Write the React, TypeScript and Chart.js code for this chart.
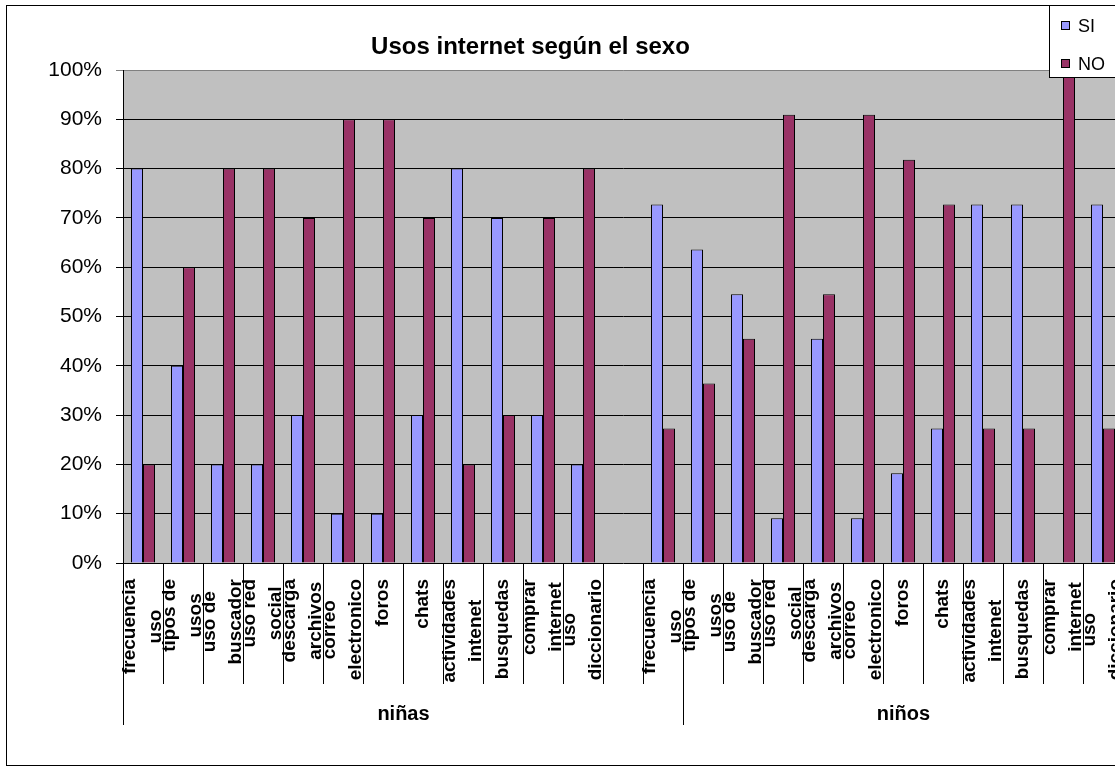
import React, { useEffect, useRef } from "react";
import { Chart, registerables } from "chart.js";

Chart.register(...registerables);

// ---------- data ----------
const chartTitle = "Usos internet según el sexo";
const seriesNames = ["SI", "NO"];
const seriesColors = ["#9999FF", "#993366"];
const categoryLabels: string[][] = [
  ["frecuencia", "uso"],
  ["tipos de", "usos"],
  ["uso de", "buscador"],
  ["uso red", "social"],
  ["descarga", "archivos"],
  ["correo", "electronico"],
  ["foros"],
  ["chats"],
  ["actividades", "intenet"],
  ["busquedas"],
  ["comprar", "internet"],
  ["uso", "diccionario"],
];
const groupNames = ["niñas", "niños"];
// category index ranges (inclusive) covered by each group label
const groupRanges: number[][] = [
  [0, 13],
  [14, 24],
];
const ninasSI = [80, 40, 20, 20, 30, 10, 10, 30, 80, 70, 30, 20];
const ninasNO = [20, 60, 80, 80, 70, 90, 90, 70, 20, 30, 70, 80];
const ninosSI = [72.7, 63.6, 54.5, 9.1, 45.5, 9.1, 18.2, 27.3, 72.7, 72.7, 0, 72.7];
const ninosNO = [27.3, 36.4, 45.5, 90.9, 54.5, 90.9, 81.8, 72.7, 27.3, 27.3, 100, 27.3];
const yMin = 0;
const yMax = 100;
const yStep = 10;

// ---------- derived ----------
const allLabels: string[][] = [...categoryLabels, [""], ...categoryLabels];
const siData: (number | null)[] = [...ninasSI, null, ...ninosSI];
const noData: (number | null)[] = [...ninasNO, null, ...ninosNO];

const FONT = '"Liberation Sans", Arial, sans-serif';

const decorPlugin = {
  id: "excelDecor",
  beforeDraw(chart: any) {
    const { ctx, chartArea: a } = chart;
    ctx.save();
    ctx.fillStyle = "#ffffff";
    ctx.fillRect(0, 0, chart.width, chart.height);
    ctx.fillStyle = "#C0C0C0";
    ctx.fillRect(a.left, a.top, a.right - a.left, a.bottom - a.top);
    ctx.restore();
  },
  afterDraw(chart: any) {
    const { ctx, chartArea: a } = chart;
    const xs = chart.scales.x;
    const n = allLabels.length;
    const step = xs.getPixelForValue(1) - xs.getPixelForValue(0);
    const boundary = (k: number) => Math.round(xs.getPixelForValue(k) - step / 2) + 0.5;
    ctx.save();

    // outer frame
    ctx.strokeStyle = "#000";
    ctx.lineWidth = 1;
    ctx.strokeRect(6.5, 5.5, 1300, 760);

    // category separators
    ctx.beginPath();
    for (let k = 0; k <= n; k++) {
      const x = boundary(k);
      ctx.moveTo(x, a.bottom);
      ctx.lineTo(x, a.bottom + 121);
    }
    ctx.stroke();

    // group separators
    ctx.beginPath();
    groupRanges.forEach((r, gi) => {
      if (gi === 0) {
        const x0 = boundary(r[0]);
        ctx.moveTo(x0, a.bottom);
        ctx.lineTo(x0, a.bottom + 162);
      }
      const x1 = boundary(r[1] + 1);
      ctx.moveTo(x1, a.bottom);
      ctx.lineTo(x1, a.bottom + 162);
    });
    ctx.stroke();

    // category labels (rotated, lines centred on each other)
    ctx.fillStyle = "#000";
    ctx.font = `bold 19px ${FONT}`;
    ctx.textAlign = "center";
    ctx.textBaseline = "alphabetic";
    const lineGap = 26;
    allLabels.forEach((lines, i) => {
      const cx = xs.getPixelForValue(i);
      const blockW = Math.max(...lines.map((l) => ctx.measureText(l).width));
      const cy = a.bottom + 16 + blockW / 2;
      lines.forEach((line, j) => {
        const bx = cx + 5 + (j - (lines.length - 1) / 2) * lineGap;
        ctx.save();
        ctx.translate(bx, cy);
        ctx.rotate(-Math.PI / 2);
        ctx.fillText(line, 0, 0);
        ctx.restore();
      });
    });

    // group labels
    ctx.font = `bold 20px ${FONT}`;
    groupRanges.forEach((r, gi) => {
      const x = (boundary(r[0]) + boundary(r[1] + 1)) / 2;
      ctx.fillText(groupNames[gi], x, a.bottom + 157);
    });

    // title
    ctx.font = `bold 24px ${FONT}`;
    ctx.fillText(chartTitle, 530.5, 54);

    // legend
    ctx.fillStyle = "#fff";
    ctx.fillRect(1049.5, 5.5, 120, 72);
    ctx.strokeRect(1049.5, 5.5, 120, 72);
    ctx.font = `18px ${FONT}`;
    ctx.textAlign = "left";
    ctx.textBaseline = "middle";
    seriesNames.forEach((name, i) => {
      const y = 26 + i * 38;
      ctx.fillStyle = seriesColors[i];
      ctx.fillRect(1061.5, y - 4.5, 8, 8);
      ctx.strokeStyle = "#000";
      ctx.strokeRect(1061.5, y - 4.5, 8, 8);
      ctx.fillStyle = "#000";
      ctx.fillText(name, 1078, y + 1);
    });

    ctx.restore();
  },
};

export default function App() {
  const canvasRef = useRef<HTMLCanvasElement | null>(null);

  useEffect(() => {
    const canvas = canvasRef.current;
    if (!canvas) return;
    const chart = new Chart(canvas, {
      type: "bar",
      data: {
        labels: allLabels.map((l) => l.join(" ")),
        datasets: [
          {
            label: seriesNames[0],
            data: siData,
            backgroundColor: seriesColors[0],
            borderColor: "#000",
            borderWidth: 1,
            categoryPercentage: 0.6,
            barPercentage: 1,
          },
          {
            label: seriesNames[1],
            data: noData,
            backgroundColor: seriesColors[1],
            borderColor: "#000",
            borderWidth: 1,
            categoryPercentage: 0.6,
            barPercentage: 1,
          },
        ],
      },
      options: {
        responsive: false,
        animation: false,
        devicePixelRatio: 1,
        layout: { padding: { top: 70, right: 12, left: 0, bottom: 0 } },
        plugins: {
          legend: { display: false },
          title: { display: false },
          tooltip: { enabled: false },
        },
        scales: {
          x: {
            type: "category",
            offset: true,
            grid: { display: false },
            border: { display: false },
            ticks: { display: false },
            afterFit: (scale: any) => {
              scale.height = 208;
            },
          },
          y: {
            min: yMin,
            max: yMax,
            ticks: {
              stepSize: yStep,
              color: "#000",
              padding: 14,
              font: { family: FONT, size: 21 },
              callback: (v: any) => `${v}%`,
            },
            grid: {
              color: (c: any) => (c.tick && c.tick.value === yMax ? "#808080" : "#000"),
              lineWidth: 1,
              tickLength: 7,
              drawTicks: true,
            },
            border: { display: true, color: "#000", width: 1 },
            afterFit: (scale: any) => {
              scale.width = 123;
            },
          },
        },
      },
      plugins: [decorPlugin],
    } as any);
    return () => chart.destroy();
  }, []);

  return (
    <div
      style={{
        position: "absolute",
        left: 0,
        top: 0,
        width: 1115,
        height: 771,
        overflow: "hidden",
        background: "#fff",
      }}
    >
      <canvas
        ref={canvasRef}
        width={1135}
        height={771}
        style={{ display: "block", width: 1135, height: 771 }}
      />
    </div>
  );
}
